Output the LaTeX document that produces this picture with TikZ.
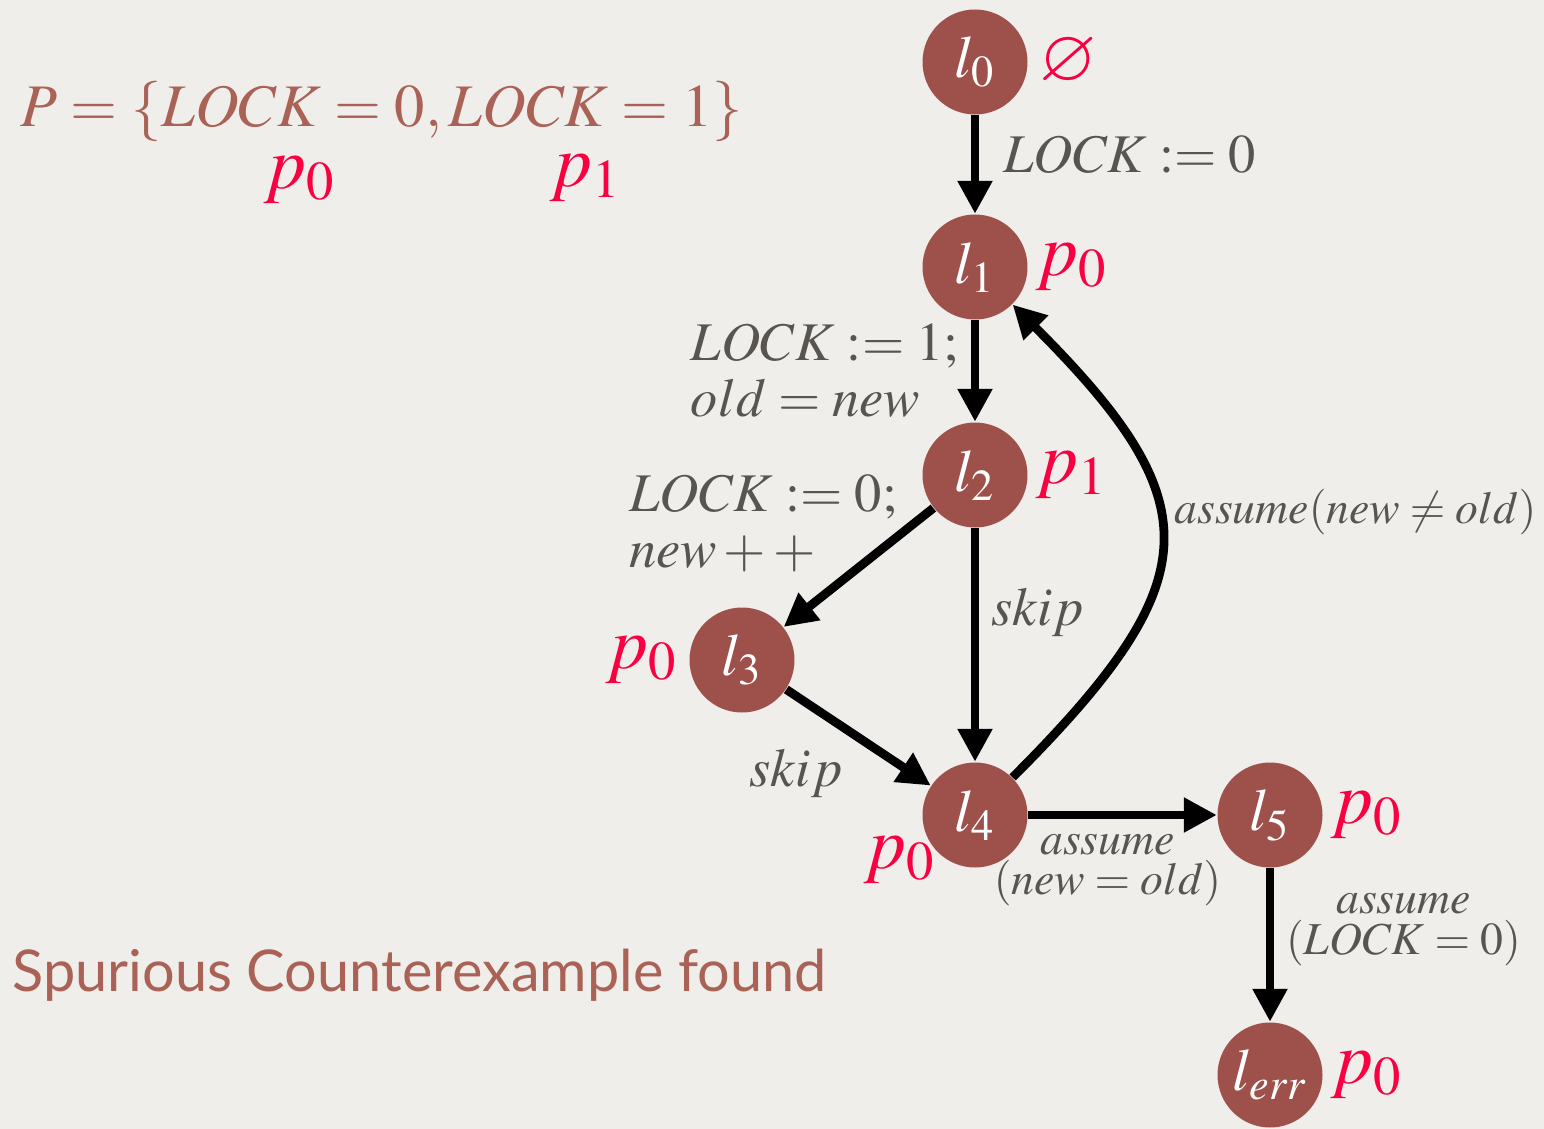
\documentclass[tikz,border=0pt]{standalone}
\usepackage{mathptmx}
\usepackage{amssymb}
\usepackage{fontspec}
\setmainfont{Liberation Serif}
\newfontfamily\titlefont{Lato}
\usetikzlibrary{arrows.meta,positioning}
\definecolor{paper}{RGB}{239,238,235}
\definecolor{locfill}{RGB}{158,80,75}
\definecolor{predred}{RGB}{250,0,65}
\definecolor{labgray}{RGB}{88,84,80}
\definecolor{titlebrown}{RGB}{169,98,85}
\tikzset{
  loc/.style={circle, fill=locfill, text=white, minimum size=1.05cm, inner sep=0pt,
    font=\fontsize{17}{17}\selectfont},
  pred/.style={text=predred, inner sep=1pt, font=\fontsize{21}{21}\selectfont},
  lab/.style={text=labgray, align=left, font=\fontsize{15.5}{16}\selectfont},
  smalllab/.style={text=labgray, align=center, font=\fontsize{13}{11.5}\selectfont},
  trans/.style={-{Triangle[length=3.3mm,width=3.3mm]}, line width=2.5pt},
}
\begin{document}
\begin{tikzpicture}
  \fill[paper] (0,0) rectangle (15.44,-11.29);
  \useasboundingbox (0,0) rectangle (15.44,-11.29);
  % locations
  \node[loc] (l0) at (9.75,-0.62) {$l_0$};
  \node[loc] (l1) at (9.75,-2.67) {$l_1$};
  \node[loc] (l2) at (9.75,-4.75) {$l_2$};
  \node[loc] (l3) at (7.42,-6.60) {$l_3$};
  \node[loc] (l4) at (9.75,-8.15) {$l_4$};
  \node[loc] (l5) at (12.70,-8.15) {$l_5$};
  \node[loc] (lerr) at (12.70,-10.75) {$l_{err}$};
  % predicates per location
  \node[pred, right=2pt of l0] (l0p) {$\varnothing$};
  \node[pred, right=1pt of l1] (l1p) {$p_0$};
  \node[pred, right=1pt of l2] (l2p) {$p_1$};
  \node[pred, left=2pt of l3] (l3p) {$p_0$};
  \node[pred] (l4p) at (9.0,-8.6) {$p_0$};
  \node[pred, right=1pt of l5] (l5p) {$p_0$};
  \node[pred, right=1pt of lerr] (lerrp) {$p_0$};
  % transitions
  \draw[trans] (l0) -- node[lab, right, pos=0.4, xshift=0.12cm] {$LOCK := 0$} (l1);
  \draw[trans] (l1) -- node[lab, left] {$LOCK := 1;$\\$old = new$} (l2);
  \draw[trans] (l2) -- node[lab, left, pos=0.3, xshift=0.25cm, yshift=0.2cm] {$LOCK := 0;$\\$new + +$} (l3);
  \draw[trans] (l2) -- node[lab, right, pos=0.36] {$skip$} (l4);
  \draw[trans] (l3) -- node[lab, below left, yshift=0.05cm] {$skip$} (l4);
  \draw[trans] (l4) to[out=45, in=-45, looseness=1.52]
    node[smalllab, right, pos=0.57, font=\fontsize{13}{13}\selectfont] {$assume(new \neq old)$} (l1);
  \draw[trans] (l4) -- node[smalllab, below, xshift=-0.15cm, yshift=-0.03cm] {$assume$\\$(new = old)$} (l5);
  \draw[trans] (l5) -- node[smalllab, right, pos=0.4] {$assume$\\$(LOCK = 0)$} (lerr);
  % predicate set
  \node[text=titlebrown, anchor=west, font=\fontsize{17.2}{17.2}\selectfont] (pset)
    at (0.08,-1.12) {$P = \{LOCK = 0,LOCK = 1\}$};
  \node[pred] (p0) at (3.0,-1.80) {$p_0$};
  \node[pred] (p1) at (5.86,-1.78) {$p_1$};
  \node[text=titlebrown, anchor=west, font=\titlefont\fontsize{16.4}{16.4}\selectfont] (verdict)
    at (0.0,-9.75) {Spurious Counterexample found};
\end{tikzpicture}
\end{document}
